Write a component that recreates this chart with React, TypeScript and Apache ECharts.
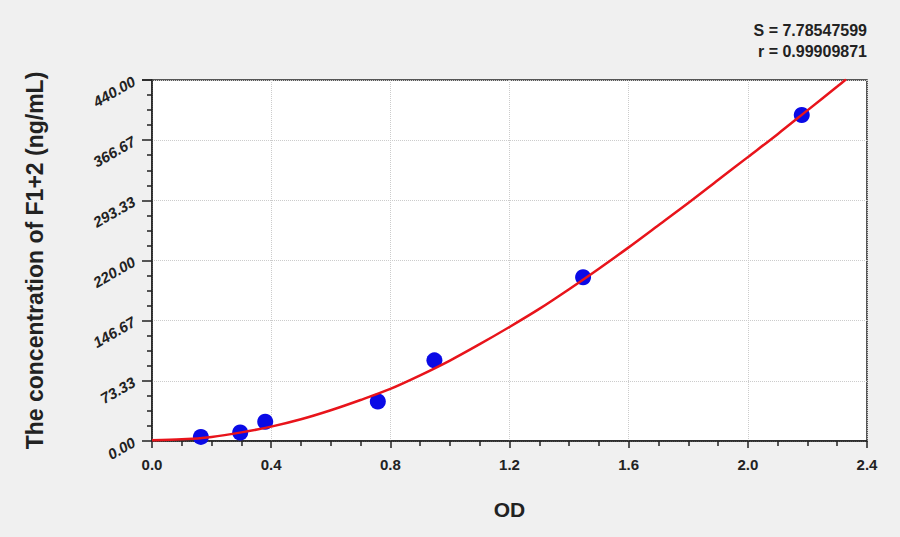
import { useEffect, useRef } from 'react'
import * as echarts from 'echarts'

// standard points (OD, ng/mL)
const stdOd = [0.164, 0.296, 0.38, 0.758, 0.948, 1.447, 2.181]
const stdConc = [5, 10.4, 23.4, 48.2, 98.3, 199.6, 397.3]

// fitted curve
const curveOd = [0, 0.1, 0.2, 0.3, 0.4, 0.5, 0.6, 0.7, 0.8, 0.9, 1.0, 1.1, 1.2, 1.3, 1.4, 1.5, 1.6, 1.7, 1.8, 1.9, 2.0, 2.1, 2.2, 2.3, 2.33]
const curveConc = [1, 2, 5, 10.5, 17.5, 26.5, 37.5, 50, 63.5, 80, 98, 118, 139, 161, 185, 210, 236, 263, 290, 318, 346, 374, 403, 432, 441]

const fitLines = ['S = 7.78547599', 'r = 0.99909871']

const FONT = '"Liberation Sans", Arial, sans-serif'

export default function App() {
  const chartRef = useRef<HTMLDivElement>(null)

  useEffect(() => {
    document.body.style.margin = '0'
    if (!chartRef.current) return
    const chart = echarts.init(chartRef.current, null, { renderer: 'svg' })

    const option: any = {
      animation: false,
      backgroundColor: '#f0f0f0',
      grid: {
        left: 152,
        right: 33,
        top: 80,
        bottom: 96,
        show: true,
        backgroundColor: '#ffffff',
        borderColor: '#222',
        borderWidth: 1.5
      },
      graphic: [
        {
          type: 'text',
          right: 33,
          top: 22,
          style: { text: fitLines[0], font: `bold 16px ${FONT}`, fill: '#222', textAlign: 'right' }
        },
        {
          type: 'text',
          right: 33,
          top: 43,
          style: { text: fitLines[1], font: `bold 16px ${FONT}`, fill: '#222', textAlign: 'right' }
        }
      ],
      xAxis: {
        type: 'value',
        min: 0,
        max: 2.4,
        interval: 0.4,
        name: 'OD',
        nameLocation: 'middle',
        nameGap: 58,
        nameTextStyle: { fontFamily: FONT, fontWeight: 'bold', fontSize: 21, color: '#222' },
        axisLine: { show: true, lineStyle: { color: '#222', width: 1.5 } },
        axisTick: { show: true, length: 7, lineStyle: { color: '#222', width: 1.5 } },
        minorTick: { show: true, splitNumber: 4, length: 5, lineStyle: { color: '#222', width: 1.5 } },
        axisLabel: {
          margin: 16,
          fontFamily: FONT,
          fontWeight: 'bold',
          fontSize: 15,
          color: '#222',
          formatter: (v: number) => v.toFixed(1)
        },
        splitLine: { show: true, lineStyle: { color: '#cccccc', type: 'dotted', width: 1 } }
      },
      yAxis: {
        type: 'value',
        min: 0,
        max: 440,
        interval: 440 / 6,
        name: 'The concentration of F1+2 (ng/mL)',
        nameLocation: 'middle',
        nameGap: 106,
        nameTextStyle: { fontFamily: FONT, fontWeight: 'bold', fontSize: 23, color: '#222' },
        axisLine: { show: true, lineStyle: { color: '#222', width: 1.5 } },
        axisTick: { show: true, length: 10, lineStyle: { color: '#222', width: 1.5 } },
        minorTick: { show: true, splitNumber: 4, length: 5, lineStyle: { color: '#222', width: 1.5 } },
        axisLabel: {
          rotate: 30,
          margin: 18,
          fontFamily: FONT,
          fontWeight: 'bold',
          fontStyle: 'italic',
          fontSize: 15,
          color: '#222',
          formatter: (v: number) => v.toFixed(2)
        },
        splitLine: { show: true, lineStyle: { color: '#cccccc', type: 'dotted', width: 1 } }
      },
      series: [
        {
          type: 'line',
          name: 'fit',
          smooth: 0.3,
          symbol: 'none',
          lineStyle: { color: '#e8141b', width: 2.5 },
          data: curveOd.map((x, i) => [x, curveConc[i]]),
          z: 3
        },
        {
          type: 'scatter',
          name: 'standards',
          symbolSize: 16,
          itemStyle: { color: '#0a0ae6', opacity: 1 },
          data: stdOd.map((x, i) => [x, stdConc[i]]),
          z: 2
        }
      ]
    }

    chart.setOption(option)

    return () => {
      chart.dispose()
    }
  }, [])

  return <div ref={chartRef} style={{ width: 900, height: 537 }} />
}
